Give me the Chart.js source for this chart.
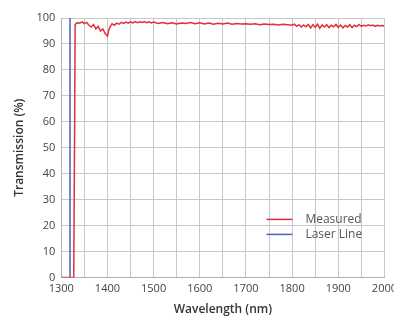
<!DOCTYPE html>
<html>
<head>
<meta charset="utf-8">
<script src="https://cdn.jsdelivr.net/npm/chart.js@4/dist/chart.umd.min.js"></script>
<style>
  html, body { margin: 0; padding: 0; background: #fff; overflow: hidden; }
  #wrap { width: 402px; height: 323px; }
</style>
</head>
<body>
<div id="wrap"><canvas id="transChart" width="402" height="323"></canvas></div>
<script>
// Measured transmission
const wavelengths = [1300, 1310, 1320, 1327, 1329, 1330, 1335, 1340, 1345, 1350, 1355, 1360, 1365, 1370, 1375, 1380, 1385, 1390, 1395, 1400, 1403, 1407, 1410, 1415, 1420, 1425, 1430, 1435, 1440, 1445, 1450, 1455, 1460, 1465, 1470, 1475, 1480, 1485, 1490, 1495, 1500, 1510, 1520, 1530, 1540, 1550, 1560, 1570, 1580, 1590, 1600, 1610, 1620, 1630, 1640, 1650, 1660, 1670, 1680, 1690, 1700, 1710, 1720, 1730, 1740, 1750, 1760, 1770, 1780, 1790, 1800, 1805, 1810, 1815, 1820, 1825, 1830, 1835, 1840, 1845, 1850, 1855, 1860, 1865, 1870, 1875, 1880, 1885, 1890, 1895, 1900, 1905, 1910, 1915, 1920, 1925, 1930, 1935, 1940, 1945, 1950, 1955, 1960, 1965, 1970, 1975, 1980, 1985, 1990, 1995, 2000];
const measured = [0, 0, 0, 0, 60, 97.5, 98.2, 98.0, 98.5, 97.8, 98.3, 97.2, 96.5, 97.5, 95.8, 96.8, 95.0, 95.8, 94.0, 93.0, 95.5, 97.0, 97.8, 97.2, 98.0, 97.6, 98.3, 97.9, 98.4, 98.0, 98.5, 98.1, 98.6, 98.2, 98.5, 98.3, 98.6, 98.2, 98.5, 98.1, 98.4, 97.9, 98.3, 97.8, 98.2, 97.7, 98.1, 97.9, 98.3, 97.8, 98.2, 97.7, 98.1, 97.6, 98.0, 97.7, 98.1, 97.6, 97.9, 97.7, 97.8, 97.6, 97.8, 97.4, 97.7, 97.5, 97.6, 97.3, 97.6, 97.4, 97.2, 97.6, 96.8, 97.4, 96.5, 97.3, 96.6, 97.5, 96.2, 97.4, 96.4, 97.6, 96.0, 97.3, 96.5, 97.4, 96.3, 97.2, 96.6, 97.5, 96.4, 97.3, 96.2, 97.1, 96.5, 97.4, 96.3, 97.2, 96.7, 97.5, 96.8, 97.2, 96.9, 97.4, 97.0, 97.3, 96.8, 97.2, 96.9, 97.1, 96.9];

// Laser line
const laserX = [1319, 1319];
const laserY = [0, 100];

const xMin = 1300, xMax = 2000;
const yMin = 0, yMax = 100;
const legendNames = ["Measured", "Laser Line"];
const redColor = "#e0303c";
const blueColor = "#4a62c4";

const measuredPoints = wavelengths.map((w, i) => ({ x: w, y: measured[i] }));
const laserPoints = laserX.map((w, i) => ({ x: w, y: laserY[i] }));

// ---------------- legend drawn inside the plot ----------------
const insideLegend = {
    id: "insideLegend",
    afterDraw(chart) {
        const ctx = chart.ctx;
        const area = chart.chartArea;
        const colors = [redColor, blueColor];
        ctx.save();
        ctx.font = "12px 'Open Sans', sans-serif";
        ctx.textBaseline = "middle";
        legendNames.forEach((name, i) => {
            const y = area.bottom - 58 + i * 15;
            const x0 = area.right - 118;
            ctx.strokeStyle = colors[i];
            ctx.lineWidth = 1.5;
            ctx.beginPath();
            ctx.moveTo(x0, y);
            ctx.lineTo(x0 + 26, y);
            ctx.stroke();
            ctx.fillStyle = "#555";
            ctx.fillText(name, x0 + 39, y);
        });
        ctx.restore();
    }
};

new Chart(document.getElementById("transChart"), {
    type: "line",
    data: {
        datasets: [
            {
                label: legendNames[0],
                data: measuredPoints,
                borderColor: redColor,
                borderWidth: 1.5,
                pointRadius: 0,
                tension: 0
            },
            {
                label: legendNames[1],
                data: laserPoints,
                borderColor: blueColor,
                borderWidth: 1.5,
                pointRadius: 0
            }
        ]
    },
    options: {
        responsive: false,
        animation: false,
        layout: {
            padding: { top: 18, right: 0, left: 12, bottom: 6 }
        },
        plugins: {
            legend: { display: false },
            tooltip: { enabled: false }
        },
        scales: {
            x: {
                type: "linear",
                min: xMin,
                max: xMax,
                ticks: {
                    stepSize: 50,
                    autoSkip: false,
                    maxRotation: 0,
                    color: "#444",
                    font: { family: "'Open Sans', sans-serif", size: 11 },
                    padding: 5,
                    callback: v => (v % 100 === 0 ? String(v) : "")
                },
                grid: { color: "#c8c8c8", lineWidth: 1, drawTicks: false },
                border: { color: "#b0b0b0" },
                title: {
                    display: true,
                    text: "Wavelength (nm)",
                    color: "#333",
                    font: { family: "'Open Sans', sans-serif", size: 12, weight: "600" },
                    padding: { top: 2, bottom: 0 }
                }
            },
            y: {
                min: yMin,
                max: yMax,
                ticks: {
                    stepSize: 10,
                    color: "#444",
                    font: { family: "'Open Sans', sans-serif", size: 11 },
                    padding: 6
                },
                grid: { color: "#c8c8c8", lineWidth: 1, drawTicks: false },
                border: { color: "#b0b0b0" },
                title: {
                    display: true,
                    text: "Transmission (%)",
                    color: "#333",
                    font: { family: "'Open Sans', sans-serif", size: 12, weight: "600" },
                    padding: { top: 0, bottom: 4 }
                }
            }
        }
    },
    plugins: [insideLegend]
});
</script>
</body>
</html>
